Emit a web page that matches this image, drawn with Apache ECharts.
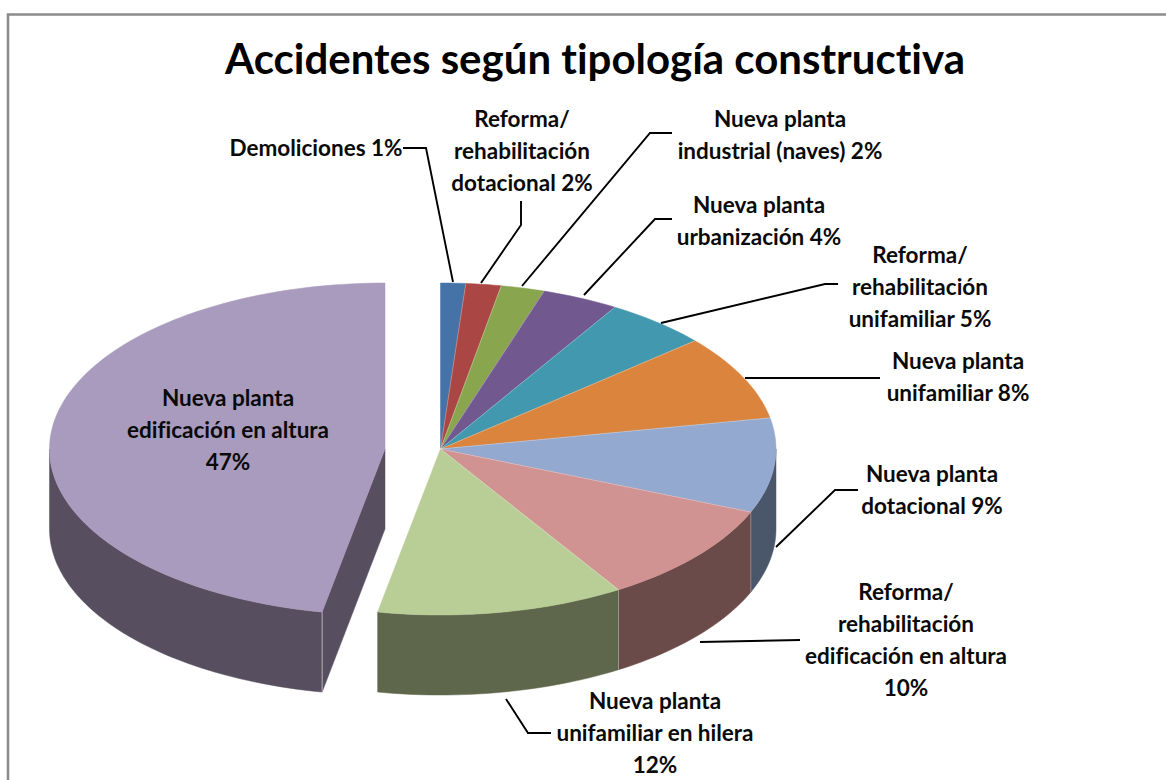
<!DOCTYPE html>
<html><head><meta charset="utf-8">
<style>html,body{margin:0;padding:0;background:#fff;overflow:hidden}#c{width:1166px;height:780px}#c text{font-variant-ligatures:none;font-feature-settings:"liga" 0,"clig" 0}</style>
<script src="https://cdn.jsdelivr.net/npm/echarts@6/dist/echarts.min.js"></script>
</head><body><div id="c"></div>
<script>
const titleText = 'Accidentes según tipología constructiva';
const categories = ['Demoliciones','Reforma/\nrehabilitación\ndotacional','Nueva planta\nindustrial (naves)','Nueva planta\nurbanización','Reforma/\nrehabilitación\nunifamiliar','Nueva planta\nunifamiliar','Nueva planta\ndotacional','Reforma/\nrehabilitación\nedificación en altura','Nueva planta\nunifamiliar en hilera','Nueva planta\nedificación en altura'];
const shares = [1.2,1.7,2.1,3.7,5.0,8.3,9.2,9.9,11.9,47.0];
const percentLabels = ['1%','2%','2%','4%','5%','8%','9%','10%','12%','47%'];
const percentBreak = [' ',' ',' ',' ',' ',' ',' ','\n','\n','\n'];
const exploded = [0,0,0,0,0,0,0,0,0,1];
const topColors = ['#4573A7','#AA4643','#89A54E','#71588F','#4198AF','#DB843D','#93A9CF','#D19392','#B9CD96','#A99BBD'];
const wallColors = ['#2F4D70','#72302E','#5C6F35','#4C3B60','#2C6676','#935929','#4A5669','#6B4A4A','#5E664B','#574F60'];
const labelCenters = [[316,147],[522,150],[780,134],[759,220],[920,286],[958,376],[932,489],[906,639],[655,732],[228,429]];
const leaderLines = [
 [[403,148],[426,148],[453,282]],
 [[521,201],[521,225],[481,283]],
 [[672,133],[650,133],[522,286]],
 [[672,219],[655,219],[584,295]],
 [[838,284],[825,284],[661,323]],
 [[880,378],[745,378]],
 [[858,490],[835,490],[776,547]],
 [[800,640],[700,642]],
 [[551,733],[528,733],[506,699]],
 null
];
const cx=440.5, cy=449, rx=335.5, ry=166, depth=80, explodeX=-55.5;
const FONT='Lato, "Open Sans", sans-serif';
const LABEL_SIZE=22.5;
const total=shares.reduce((a,b)=>a+b,0);
function pt(c,a,dy){const t=a*Math.PI/180;return [c+rx*Math.sin(t),cy-ry*Math.cos(t)+(dy||0)];}
function arc(c,a0,a1,dy){const out=[];const n=Math.max(2,Math.ceil((a1-a0)/1.5));for(let i=0;i<=n;i++)out.push(pt(c,a0+(a1-a0)*i/n,dy));return out;}
function renderItem(params,api){
  const i=params.dataIndex, v=api.value(1);
  let before=0; for(let k=0;k<i;k++)before+=shares[k];
  const a0=before/total*360, a1=(before+v)/total*360;
  const c=cx+exploded[i]*explodeX;
  const ch=[];
  const lo=Math.max(a0,90), hi=Math.min(a1,270);
  if(hi>lo){
    const t=arc(c,lo,hi,0), b=arc(c,lo,hi,depth).reverse();
    ch.push({type:'polygon',shape:{points:t.concat(b)},style:{fill:wallColors[i],stroke:wallColors[i],lineWidth:0.5},z2:1});
    if(a0>90){ch.push({type:'line',shape:{x1:t[0][0],y1:t[0][1],x2:t[0][0],y2:t[0][1]+depth},style:{stroke:'rgba(255,255,255,0.3)',lineWidth:1},z2:2});}
  }
  if(exploded[i]){
    const p=pt(c,a0,0);
    ch.push({type:'polygon',shape:{points:[[c,cy],p,[p[0],p[1]+depth],[c,cy+depth]]},style:{fill:wallColors[i],stroke:wallColors[i],lineWidth:0.5},z2:1});
    ch.push({type:'line',shape:{x1:p[0],y1:p[1],x2:p[0],y2:p[1]+depth},style:{stroke:'rgba(255,255,255,0.3)',lineWidth:1},z2:2});
  }
  const top=[[c,cy]].concat(arc(c,a0,a1,0));
  ch.push({type:'polygon',shape:{points:top},style:{fill:topColors[i],stroke:topColors[i],lineWidth:0.5},z2:3});
  const e=pt(c,a1,0);
  if(!exploded[i]&&i<categories.length-2){ch.push({type:'line',shape:{x1:c,y1:cy,x2:e[0],y2:e[1]},style:{stroke:'rgba(255,255,255,0.35)',lineWidth:0.8},z2:4});}
  if(leaderLines[i]){ch.push({type:'polyline',shape:{points:leaderLines[i]},style:{stroke:'#000',lineWidth:1.9,fill:null},z2:5});}
  ch.push({type:'text',style:{x:labelCenters[i][0],y:labelCenters[i][1],text:api.value(0),fontFamily:FONT,fontWeight:'bold',fontSize:LABEL_SIZE,lineHeight:32,align:'center',verticalAlign:'middle',fill:'#0a0a0a'},z2:6});
  return {type:'group',children:ch};
}
const chart=echarts.init(document.getElementById('c'),null,{renderer:'svg'});
chart.setOption({
  animation:false,
  backgroundColor:'#fff',
  title:{text:titleText,left:590,top:32,textAlign:'center',textStyle:{fontFamily:FONT,fontWeight:'bold',fontSize:42,color:'#000'}},
  graphic:[{type:'polyline',shape:{points:[[8,800],[8,14.5],[1170,14.5]]},style:{stroke:'#8c8c8c',lineWidth:2.6,fill:null},silent:true}],
  series:[{type:'custom',coordinateSystem:'none',renderItem,clip:false,
    data:categories.map((n,i)=>[n+percentBreak[i]+percentLabels[i],shares[i]]),
    encode:{value:1}, dimensions:[{name:'label',type:'ordinal'},{name:'share',type:'number'}], silent:true}]
});
</script></body></html>
